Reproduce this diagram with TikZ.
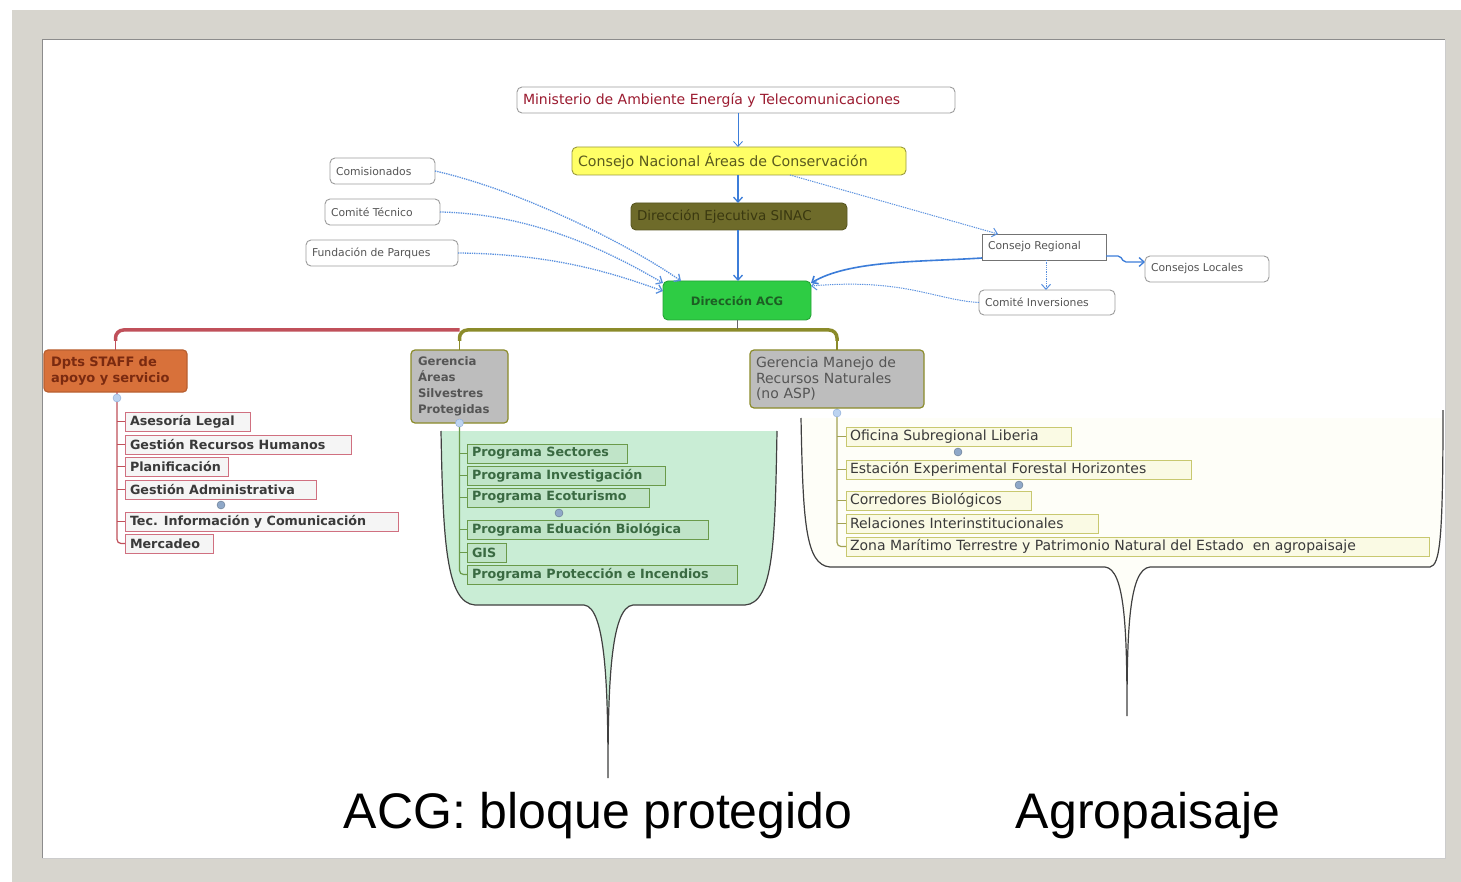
\documentclass[tikz,border=0pt]{standalone}
\usepackage{fontspec}
\setmainfont{DejaVu Sans}
\newfontfamily\arialf{Liberation Sans}
\usetikzlibrary{arrows.meta}
\definecolor{framegray}{HTML}{D7D5CE}
\definecolor{bgray}{HTML}{9C9C9C}
\definecolor{ablue}{HTML}{3C7DD9}
\definecolor{minred}{HTML}{9B1B30}
\definecolor{yel}{HTML}{FFFF66}
\definecolor{yeltext}{HTML}{5A5A1E}
\definecolor{sinacfill}{HTML}{6E6B2A}
\definecolor{sinactext}{HTML}{3A3810}
\definecolor{acgfill}{HTML}{2ECC44}
\definecolor{acgtext}{HTML}{1D5E24}
\definecolor{dptsfill}{HTML}{D8713A}
\definecolor{dptstext}{HTML}{7A2A10}
\definecolor{gerfill}{HTML}{BDBDBD}
\definecolor{gertext}{HTML}{555555}
\definecolor{olive}{HTML}{8B8B2A}
\definecolor{redl}{HTML}{C0505A}
\definecolor{reditem}{HTML}{D07080}
\definecolor{grnreg}{HTML}{C9EDD5}
\definecolor{grnitem}{HTML}{C0E4C8}
\definecolor{grnbord}{HTML}{6A9A4A}
\definecolor{grntext}{HTML}{3A6A42}
\definecolor{agrofill}{HTML}{FEFEF8}
\definecolor{agroitem}{HTML}{FAFAE4}
\definecolor{agrobord}{HTML}{C8C870}
\definecolor{itemtext}{HTML}{3A3A3A}
\definecolor{mkfill}{HTML}{BCD3F0}
\definecolor{mkdraw}{HTML}{8AAAD8}
\definecolor{dotfill}{HTML}{8FA8C8}
\newcommand\fsz[1]{\fontsize{#1}{#1}\selectfont}
\begin{document}
\begin{tikzpicture}[x=1pt,y=-1pt,
  base/.style={anchor=north west, inner ysep=0pt, outer sep=0pt},
  topb/.style={base, draw=bgray, fill=white, rounded corners=5pt, line width=0.9pt, inner xsep=6pt},
  smallb/.style={topb, font=\fsz{10.8}\color{gertext}, minimum height=26pt},
  gerb/.style={base, draw=olive, fill=gerfill, rounded corners=4pt, line width=1.2pt, inner xsep=7pt, align=left},
  staffit/.style={base, draw=reditem, fill=black!4, line width=1pt, inner xsep=5pt, minimum height=19pt, font=\bfseries\fsz{12.7}\color{itemtext}},
  aspit/.style={base, draw=grnbord, fill=grnitem, line width=1pt, inner xsep=5pt, minimum height=19pt, font=\bfseries\fsz{12.7}\color{grntext}},
  agroit/.style={base, draw=agrobord, fill=agroitem, line width=1pt, inner xsep=4pt, minimum height=19pt, font=\fsz{14}\color{itemtext}},
  barr/.style={draw=ablue, line width=1.3pt, -{Straight Barb[length=5pt,width=9pt]}},
  darr/.style={draw=ablue!85, line width=1.3pt, densely dotted, -{Straight Barb[length=5pt,width=9pt]}},
  mkminus/.style={circle, fill=mkfill, draw=mkdraw, inner sep=0pt, minimum size=8pt},
  mkplus/.style={circle, fill=dotfill, draw=dotfill!70!black, inner sep=0pt, minimum size=8pt},
  redthick/.style={draw=redl, line width=3.5pt},
  olthick/.style={draw=olive, line width=3.5pt},
  callout/.style={draw=black!75, line width=1.2pt}
]
\useasboundingbox (0,0) rectangle (1461,882);
% frame
\fill[white] (0,0) rectangle (1461,882);
\fill[framegray] (12,10) rectangle (1461,882);
\fill[white] (42,40) rectangle (1445,858);
\draw[black!45, line width=1pt] (42,858) -- (42,40) -- (1445,40);
\draw[black!20, line width=1pt] (1445,40) -- (1445,858) -- (42,858);

% callout regions
\fill[grnreg] (441,431) -- (777,431) .. controls (775,540) and (774,603) .. (745,605)
  -- (633,605) .. controls (610,607) and (608,690) .. (608,778)
  .. controls (608,690) and (606,607) .. (584,605) -- (475,605)
  .. controls (446,603) and (443,540) .. (441,431) -- cycle;
\draw[callout] (777,431) .. controls (775,540) and (774,603) .. (745,605)
  -- (633,605) .. controls (610,607) and (608,690) .. (608,778)
  .. controls (608,690) and (606,607) .. (584,605) -- (475,605)
  .. controls (446,603) and (443,540) .. (441,431);
\fill[agrofill] (801,418) -- (1443,418) .. controls (1443,540) and (1440,565) .. (1430,567)
  -- (1150,567) .. controls (1129,569) and (1127,630) .. (1127,716)
  .. controls (1127,630) and (1125,569) .. (1105,567) -- (830,567)
  .. controls (805,565) and (803,520) .. (801,418) -- cycle;
\draw[callout] (1443,410) .. controls (1443,540) and (1440,565) .. (1430,567)
  -- (1150,567) .. controls (1129,569) and (1127,630) .. (1127,716)
  .. controls (1127,630) and (1125,569) .. (1105,567) -- (830,567)
  .. controls (805,565) and (803,520) .. (801,418);

% top nodes
\node[topb, minimum height=26pt, font=\fsz{14}\color{minred}] (min) at (517,87) {\makebox[426pt][l]{Ministerio de Ambiente Energía y Telecomunicaciones}};
\node[topb, fill=yel, draw=yel!60!black, minimum height=28pt, font=\fsz{14.2}\color{yeltext}] (cnac) at (572,147) {\makebox[322pt][l]{Consejo Nacional Áreas de Conservación}};
\node[topb, fill=sinacfill, draw=sinacfill!80!black, minimum height=27pt, font=\fsz{13.5}\color{sinactext}] (sinac) at (631,203) {\makebox[204pt][l]{Dirección Ejecutiva SINAC}};
\node[topb, fill=acgfill, draw=acgfill!80!black, minimum height=39pt, font=\bfseries\fsz{11.6}\color{acgtext}] (acg) at (663,281) {\makebox[136pt][c]{Dirección ACG}};

\node[smallb] (comis) at (330,158) {\makebox[93pt][l]{Comisionados}};
\node[smallb] (ctec) at (325,199) {\makebox[103pt][l]{Comité Técnico}};
\node[smallb] (fund) at (306,240) {\makebox[140pt][l]{Fundación de Parques}};
\node[smallb, rounded corners=0pt, draw=black!55] (creg) at (982,234) {\makebox[112pt][l]{Consejo Regional}};
\node[smallb] (cloc) at (1145,256) {\makebox[112pt][l]{Consejos Locales}};
\node[smallb, minimum height=25pt] (cinv) at (979,290) {\makebox[124pt][l]{Comité Inversiones}};

% top connectors
\draw[barr, line width=0.8pt] (min.south -| 738,0) -- (cnac.north -| 738,0);
\draw[barr] (cnac.south -| 738,0) -- (sinac.north -| 738,0);
\draw[barr] (sinac.south -| 738,0) -- (acg.north -| 738,0);
\draw[darr] (comis.east) .. controls (520,190) and (630,245) .. ([xshift=18pt]acg.north west);
\draw[darr] (ctec.east) .. controls (540,214) and (620,258) .. ([yshift=-2pt]acg.north west);
\draw[darr] (fund.east) .. controls (560,254) and (620,276) .. ([yshift=-10pt]acg.north west);
\draw[darr, line width=1pt] ([xshift=-116pt]cnac.south east) -- ([xshift=16pt]creg.north west);
\draw[barr, line width=1.6pt] ([yshift=-11pt]creg.west) .. controls (920,262) and (850,260) .. ([yshift=-2pt]acg.north east);
\draw[darr, line width=1pt] (cinv.west) .. controls (935,300) and (905,278) .. ([yshift=-5pt]acg.north east);
\draw[darr, line width=1pt] (creg.south -| 1046,0) -- (cinv.north -| 1046,0);
\draw[barr, rounded corners=2pt] ([yshift=-9pt]creg.east) -- (1120,256) -- (1124,262) -- ([yshift=7pt]cloc.west);

% second-level nodes
\node[gerb, fill=dptsfill, draw=dptsfill!85!black, minimum height=42pt, text width=129pt, font=\bfseries\fontsize{13}{16}\selectfont\color{dptstext}, inner xsep=7pt] (dpts) at (44,350) {Dpts STAFF de\\apoyo y servicio};
\node[gerb, minimum height=73pt, text width=83pt, font=\bfseries\fontsize{11.7}{16}\selectfont\color{gertext}] (gasp) at (411,350) {Gerencia\\Áreas\\Silvestres\\Protegidas};
\node[gerb, minimum height=58pt, text width=162pt, inner xsep=6pt, font=\fontsize{14}{15.5}\selectfont\color{gertext}] (gman) at (750,350) {Gerencia Manejo de\\Recursos Naturales\\(no ASP)};

% tree from ACG
\draw[redthick, rounded corners=8pt] (gasp.north |- 0,330) -| (dpts.north |- 0,341);
\draw[redl, line width=1.2pt] (dpts.north |- 0,339) -- (dpts.north);
\draw[olthick, rounded corners=8pt] (gasp.north |- 0,341) |- (gman.north |- 0,330) -- (gman.north |- 0,341);
\draw[olive, line width=1.2pt] (gasp.north |- 0,339) -- (gasp.north);
\draw[olive, line width=1.2pt] (gman.north |- 0,339) -- (gman.north);
\draw[black!60, line width=1pt] (acg.south) -- (acg.south |- 0,329);

% staff items
\node[staffit] (al) at (125,412) {\makebox[115pt][l]{Asesoría Legal}};
\node[staffit] (grh) at (125,435) {\makebox[216pt][l]{Gestión Recursos Humanos}};
\node[staffit] (pla) at (125,457) {\makebox[93pt][l]{Planificación}};
\node[staffit] (gad) at (125,480) {\makebox[181pt][l]{Gestión Administrativa}};
\node[staffit] (tic) at (125,512) {\makebox[263pt][l]{Tec. Información y Comunicación}};
\node[staffit] (mer) at (125,534) {\makebox[78pt][l]{Mercadeo}};
\draw[redl, line width=1.2pt, rounded corners=4pt] (dpts.south -| 117,0) |- (mer.west);
\foreach \n in {al,grh,pla,gad,tic} \draw[redl, line width=1.2pt] (117,0 |- \n.west) -- (\n.west);
\node[mkminus] at (117,398) {};
\node[mkplus] at (221,505) {};

% ASP items
\node[aspit] (ps) at (467,444) {\makebox[150pt][l]{Programa Sectores}};
\node[aspit] (pi) at (467,466) {\makebox[188pt][l]{Programa Investigación}};
\node[aspit] (pe) at (467,488) {\makebox[172pt][l]{Programa Ecoturismo}};
\node[aspit] (pb) at (467,520) {\makebox[231pt][l]{Programa Eduación Biológica}};
\node[aspit] (gis) at (467,543) {\makebox[29pt][l]{GIS}};
\node[aspit] (pp) at (467,565) {\makebox[260pt][l]{Programa Protección e Incendios}};
\draw[grnbord, line width=1.2pt, rounded corners=4pt] (gasp.south) |- (pp.west);
\foreach \n in {ps,pi,pe,pb,gis} \draw[grnbord, line width=1.2pt] (gasp.south |- \n.west) -- (\n.west);
\node[mkminus] at (gasp.south) {};
\node[mkplus] at (559,513) {};

% Manejo items
\node[agroit] (osl) at (846,427) {\makebox[217pt][l]{Oficina Subregional Liberia}};
\node[agroit] (eef) at (846,460) {\makebox[337pt][l]{Estación Experimental Forestal Horizontes}};
\node[agroit] (cb) at (846,491) {\makebox[177pt][l]{Corredores Biológicos}};
\node[agroit] (ri) at (846,514) {\makebox[244pt][l]{Relaciones Interinstitucionales}};
\node[agroit] (zm) at (846,537) {\makebox[575pt][l]{Zona Marítimo Terrestre y Patrimonio Natural del Estado\ \ en agropaisaje}};
\draw[olive!80, line width=1.2pt, rounded corners=4pt] (gman.south) |- (zm.west);
\foreach \n in {osl,eef,cb,ri} \draw[olive!80, line width=1.2pt] (gman.south |- \n.west) -- (\n.west);
\node[mkminus] at ([yshift=-5pt]gman.south) {};
\node[mkplus] at (958,452) {};
\node[mkplus] at (1019,485) {};

% bottom labels
\node[anchor=base, inner sep=0pt, font=\arialf\fsz{50}] (lab1) at (598,828) {ACG: bloque protegido};
\node[anchor=base, inner sep=0pt, font=\arialf\fsz{50}] (lab2) at (1148,828) {Agropaisaje};
\end{tikzpicture}
\end{document}
